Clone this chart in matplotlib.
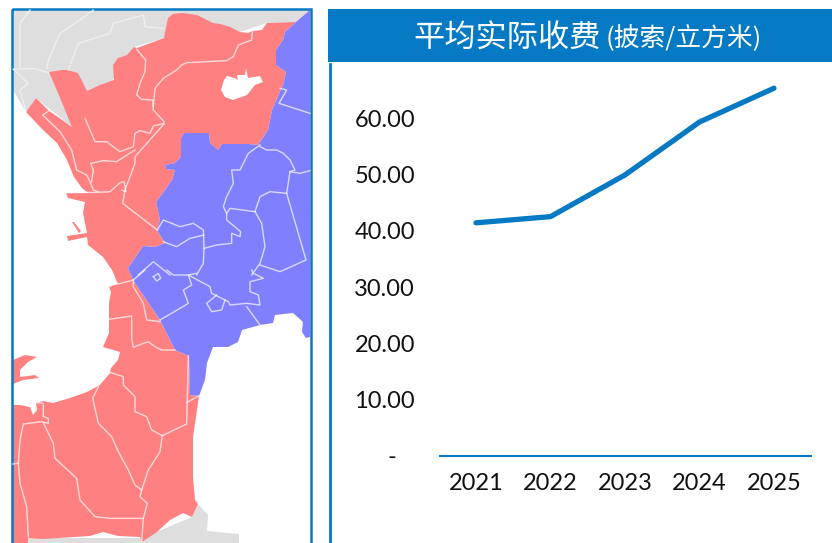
import numpy as np
import matplotlib
matplotlib.use('Agg')
import matplotlib.pyplot as plt
from matplotlib.patches import Polygon, Rectangle

W, H = 832, 543
BLUE = '#0579c3'
RED = '#ff8080'
VIOLET = '#8080ff'
GRAY = '#dedede'

# Chart values
years = [2021, 2022, 2023, 2024, 2025]
tariff = [41.4, 42.5, 49.9, 59.3, 65.3]
y_ticks = [0, 10, 20, 30, 40, 50, 60]
y_labels = ['-   ', '10.00', '20.00', '30.00', '40.00', '50.00', '60.00']

# Map outlines, in picture pixels
gray_north = [(13, 10), (310, 10), (296, 22), (267, 23), (240, 32), (164, 38), (134, 47),
              (100, 100), (72, 127), (36, 98), (26, 112), (13, 90)]
gray_south = [(198, 504), (208, 515), (207, 531), (239, 534), (239, 543), (28, 543), (28, 538),
              (142, 538), (192, 517)]
red_blue_edge = [(296, 22), (285, 32), (283, 40), (276, 50), (276, 65), (286, 72), (283, 85),
                 (272, 110), (268, 130), (258, 145), (248, 144), (222, 144), (218, 150),
                 (210, 143), (209, 133), (184, 133), (181, 138), (181, 157), (175, 163),
                 (165, 165), (166, 169), (175, 170), (172, 180), (165, 190), (156, 202), (159, 215),
                 (160, 220), (157, 230), (165, 243), (155, 247), (143, 246), (135, 258),
                 (128, 268), (133, 280), (160, 320), (175, 350), (189, 356), (190, 395), (199, 396)]
red_top = [(26, 112), (36, 98), (48, 110), (72, 127), (58, 93), (49, 72), (62, 70), (67, 70),
           (78, 73), (87, 91), (100, 85), (114, 80), (113, 65), (118, 58), (127, 55), (134, 47),
           (137, 48), (164, 38), (168, 18), (173, 14), (182, 13), (197, 15), (207, 20), (213, 23),
           (220, 24), (230, 27), (240, 32), (248, 33), (252, 31), (262, 30), (267, 23)]
red_rest = [(197, 410), (193, 437), (193, 477), (195, 500), (198, 504), (192, 517), (183, 513),
            (170, 520), (157, 532), (142, 542), (140, 537), (118, 536), (103, 532), (90, 536),
            (43, 539), (28, 538), (28, 543), (13, 543), (13, 405), (20, 405), (30, 407), (33, 415),
            (37, 410), (36, 403), (43, 401), (53, 403), (70, 398), (87, 392), (100, 385), (110, 373),
            (111, 368), (118, 360), (120, 352), (103, 347), (109, 333), (109, 303), (111, 292),
            (109, 287), (118, 284), (112, 270), (103, 257), (88, 245), (87, 237), (68, 241),
            (67, 236), (87, 233), (83, 213), (85, 202), (68, 198), (66, 193), (88, 193), (82, 188),
            (74, 177), (67, 160), (57, 143), (43, 130)]
red_spike = [(72, 222), (74, 222), (81, 231), (79, 233)]
red_peninsula = [(13, 360), (25, 355), (37, 357), (28, 362), (20, 370), (20, 377), (35, 375),
                 (39, 378), (23, 380), (13, 384)]
blue_rest = [(205, 380), (207, 363), (213, 347), (228, 347), (238, 342), (242, 330), (260, 325),
             (273, 323), (275, 315), (293, 313), (303, 322), (302, 332), (306, 338), (310, 337),
             (310, 10)]
lake = [(221, 90), (224, 80), (227, 76), (235, 78), (238, 80), (237, 75), (245, 75), (246, 68),
        (248, 78), (260, 76), (263, 82), (255, 85), (247, 95), (233, 100), (225, 97)]

# Boundaries, in 3x zoom units: north crop starts at y=0, south crop at y=270
north_lines = [
    [(410, 148), (437, 180), (435, 215), (420, 250), (410, 285), (425, 298), (458, 300), (460, 330), (492, 365)],
    [(757, 95), (755, 120), (715, 135), (700, 170), (680, 182), (560, 188), (545, 195), (530, 210), (490, 235), (465, 265), (460, 320)],
    [(492, 370), (460, 378), (450, 400), (420, 392), (405, 400), (400, 440), (360, 455), (320, 425), (285, 425), (255, 355)],
    [(492, 372), (405, 470), (405, 490), (375, 570), (368, 610), (472, 690)],
    [(150, 330), (128, 345), (180, 395), (215, 450), (230, 510), (260, 525), (270, 545), (280, 570), (295, 575)],
    [(405, 450), (350, 485), (310, 482), (272, 490), (280, 510), (275, 545)],
    [(200, 578), (295, 577), (330, 575), (360, 548), (372, 545), (378, 575), (365, 570)],
    [(780, 435), (745, 460), (720, 510), (695, 510), (700, 550), (680, 590), (670, 620), (680, 640), (690, 625), (765, 635), (785, 670), (795, 740), (780, 790), (755, 825)],
    [(780, 440), (800, 450), (830, 450), (850, 460), (870, 480), (885, 510), (870, 515), (860, 580), (810, 575), (780, 590), (765, 635)],
    [(860, 580), (918, 780), (840, 815), (780, 795)],
    [(870, 515), (900, 520), (930, 512)],
    [(930, 340), (837, 310), (860, 270), (840, 265)],
    [(680, 640), (680, 660), (722, 695), (720, 710), (695, 700), (695, 730), (650, 735), (612, 745), (610, 690), (580, 670), (540, 680), (490, 660), (472, 690)],
    [(612, 705), (570, 715), (530, 740), (490, 725)],
    [(612, 745), (610, 790), (590, 825)],
    [(415, 825), (460, 785), (510, 825)],
]
south_lines = [
    [(435, 0), (400, 30), (355, 42)],
    [(400, 30), (400, 50), (430, 100), (440, 150), (480, 155)],
    [(480, 150), (540, 115), (565, 100), (550, 60), (575, 45), (565, 15), (520, 15), (500, 0)],
    [(590, 10), (565, 15), (630, 50), (635, 70), (685, 95), (690, 105), (740, 100), (780, 105), (775, 75), (750, 65), (750, 35), (790, 25), (760, 10), (755, 0)],
    [(740, 110), (780, 165)],
    [(650, 75), (620, 100), (635, 125), (665, 120), (675, 90)],
    [(460, 20), (475, 10), (482, 25), (470, 33), (460, 20)],
    [(327, 148), (395, 138), (395, 205), (400, 232), (430, 220), (445, 215), (465, 230), (485, 240), (525, 240)],
    [(332, 308), (370, 320), (370, 345), (405, 380), (405, 425), (440, 440), (455, 480), (487, 497), (480, 545), (445, 600), (425, 660)],
    [(295, 350), (278, 385), (295, 460), (335, 500), (355, 545), (385, 600), (405, 645), (425, 660), (420, 680), (442, 700), (430, 745), (425, 815)],
    [(487, 497), (560, 462), (565, 258)],
    [(560, 398), (595, 378)],
    [(108, 398), (130, 400), (130, 440), (145, 445), (145, 460), (125, 455), (70, 462), (60, 510), (55, 580), (60, 640), (80, 710), (85, 800)],
    [(130, 458), (160, 520), (165, 565), (230, 625), (240, 690), (285, 740), (330, 745), (430, 745)],
    [(38, 582), (55, 580)],
]
# Faint borders inside the gray land at the top left
gray_lines = [
    [(140, 205), (145, 180), (180, 100), (240, 60), (280, 30)],
    [(205, 210), (235, 130), (330, 100), (340, 70), (430, 45), (435, 80), (490, 85)],
    [(40, 208), (100, 205), (145, 218)],
    [(40, 208), (85, 250), (60, 270), (78, 335)],
    [(90, 30), (60, 70), (60, 205)],
]

fig = plt.figure(figsize=(W / 100, H / 100), dpi=100)

# Map drawn straight in picture pixels
bg = fig.add_axes([0, 0, 1, 1])
bg.set_xlim(0, W)
bg.set_ylim(H, 0)
bg.axis('off')

clip = Rectangle((12, 9), 299, 534, transform=bg.transData)
red_poly = red_top + red_blue_edge + red_rest
blue_poly = red_blue_edge + blue_rest
shapes = [(gray_north, GRAY), (gray_south, GRAY), (red_poly, RED), (red_spike, RED),
          (red_peninsula, RED), (blue_poly, VIOLET), (lake, 'white')]
for pts, col in shapes:
    p = Polygon(pts, closed=True, facecolor=col, edgecolor='none')
    bg.add_patch(p)
    p.set_clip_path(clip)

for line in gray_lines:
    xy = np.array(line) / 3
    l, = bg.plot(xy[:, 0], xy[:, 1], color='#f0f0f0', lw=0.9)
    l.set_clip_path(clip)
for line in north_lines:
    xy = np.array(line) / 3
    l, = bg.plot(xy[:, 0], xy[:, 1], color='white', lw=1.0, alpha=0.7)
    l.set_clip_path(clip)
for line in south_lines:
    xy = np.array(line) / 3 + [0, 270]
    l, = bg.plot(xy[:, 0], xy[:, 1], color='white', lw=1.0, alpha=0.7)
    l.set_clip_path(clip)

# Frames and title bar
bg.add_patch(Rectangle((12, 9), 299, 540, fill=False, edgecolor=BLUE, lw=1.8, clip_on=False))
bg.add_patch(Rectangle((328, 9), 504, 53, facecolor=BLUE, edgecolor='none'))
bg.plot([330, 330], [64, 543], color=BLUE, lw=2)

cjk = ['Noto Sans CJK SC', 'DejaVu Sans']
bg.text(413, 39, '平均实际收费', family=cjk, fontsize=22.5, color='white', va='center', ha='left', fontweight='light')
bg.text(606, 39, '(披索/立方米)', family=cjk, fontsize=18.5, color='white', va='center', ha='left', fontweight='light')

# Line chart
ax = fig.add_axes([440 / W, 1 - 456 / H, 371 / W, 392 / H])
ax.patch.set_alpha(0)
ax.plot(years, tariff, color=BLUE, lw=3.8, solid_capstyle='round')
ax.set_xlim(2020.517, 2025.497)
ax.set_ylim(0, 69.6)
ax.set_xticks(years)
ax.set_yticks(y_ticks)
ax.set_yticklabels(y_labels)
for s in ['top', 'right', 'left']:
    ax.spines[s].set_visible(False)
ax.spines['bottom'].set_color(BLUE)
ax.spines['bottom'].set_linewidth(1.5)
ax.tick_params(length=0, labelsize=17, colors='#111111')
ax.tick_params(axis='x', pad=12)
ax.tick_params(axis='y', pad=18)
for t in ax.get_xticklabels() + ax.get_yticklabels():
    t.set_family('Lato')

fig.savefig('out.png', dpi=100)
